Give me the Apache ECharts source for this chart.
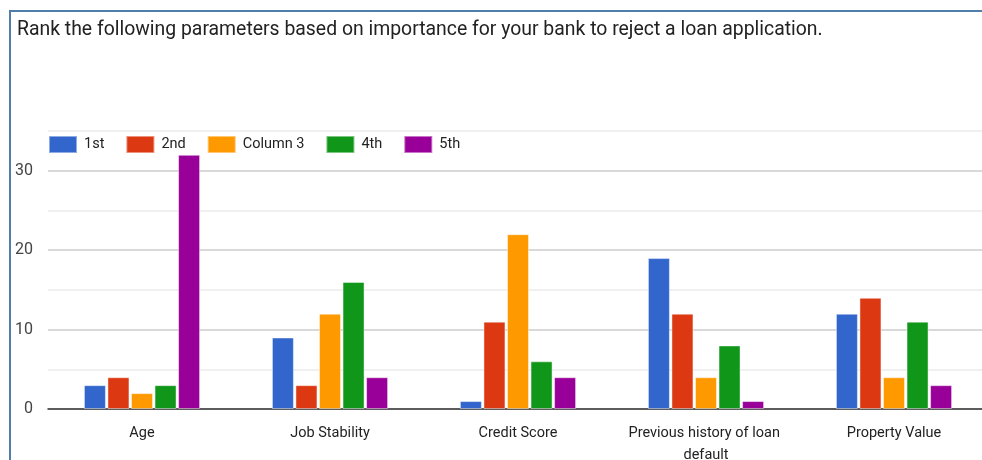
<!DOCTYPE html>
<html>
<head>
<meta charset="utf-8">
<script src="https://cdn.jsdelivr.net/npm/echarts@6/dist/echarts.min.js"></script>
<style>
  html, body { margin: 0; padding: 0; background: #fff; }
  #chart { width: 982px; height: 460px; }
</style>
</head>
<body>
<div id="chart"></div>
<script>
// Survey responses: how many banks ranked each parameter 1st..5th
const categories = ['Age', 'Job Stability', 'Credit Score', 'Previous history of loan default', 'Property Value'];
const seriesNames = ['1st', '2nd', 'Column 3', '4th', '5th'];
const rank1 = [3, 9, 1, 19, 12];
const rank2 = [4, 3, 11, 12, 14];
const rank3 = [2, 12, 22, 4, 4];
const rank4 = [3, 16, 6, 8, 11];
const rank5 = [32, 4, 4, 1, 3];
const yTickLabels = [0, 10, 20, 30];
const titleText = 'Rank the following parameters based on importance for your bank to reject a loan application.';

const palette = ['#3366cc', '#dc3912', '#ff9900', '#109618', '#990099'];
const values = [rank1, rank2, rank3, rank4, rank5];

const chart = echarts.init(document.getElementById('chart'), null, { renderer: 'canvas' });

const FONT = 'Roboto, "Liberation Sans", sans-serif';

chart.setOption({
  animation: false,
  color: palette,
  title: {
    text: titleText,
    left: 12,
    top: 16,
    textStyle: { fontFamily: FONT, fontSize: 19.4, fontWeight: 'normal', color: '#222' }
  },
  legend: {
    data: seriesNames,
    left: 43,
    top: 130,
    icon: 'rect',
    itemWidth: 28,
    itemHeight: 17,
    itemGap: 21,
    textStyle: { fontFamily: FONT, fontSize: 14.5, color: '#222', padding: [0, 0, 0, 2] }
  },
  graphic: [{
    type: 'polyline',
    shape: { points: [[10, 470], [10, 11], [990, 11]] },
    style: { stroke: '#4f7fa8', lineWidth: 2, fill: null },
    silent: true
  }],
  grid: {
    left: 48,
    right: -6,
    top: 131,
    bottom: 51,
    containLabel: false,
    outerBoundsMode: 'none'
  },
  xAxis: {
    type: 'category',
    data: categories,
    axisLine: { show: true, lineStyle: { color: '#333', width: 1.5 } },
    axisTick: { show: false },
    splitLine: { show: false },
    axisLabel: {
      fontFamily: FONT,
      fontSize: 14.5,
      color: '#222',
      margin: 13,
      lineHeight: 22,
      width: 170,
      overflow: 'break',
      interval: 0
    }
  },
  yAxis: {
    type: 'value',
    min: 0,
    max: 35,
    interval: 5,
    axisLine: { show: false },
    axisTick: { show: false },
    axisLabel: {
      fontFamily: FONT,
      fontSize: 16,
      color: '#444',
      margin: 15,
      formatter: function (v) {
        return yTickLabels.indexOf(v) >= 0 ? String(v) : '';
      }
    },
    splitLine: {
      show: true,
      lineStyle: { color: ['#cccccc', '#ebebeb'], width: 1.5 }
    }
  },
  series: seriesNames.map(function (name, i) {
    return {
      name: name,
      type: 'bar',
      data: values[i],
      barWidth: 22,
      barGap: '7%',
      itemStyle: {
        color: palette[i],
        borderColor: 'rgba(255,255,255,0.45)',
        borderWidth: 1
      }
    };
  })
});
</script>
</body>
</html>
